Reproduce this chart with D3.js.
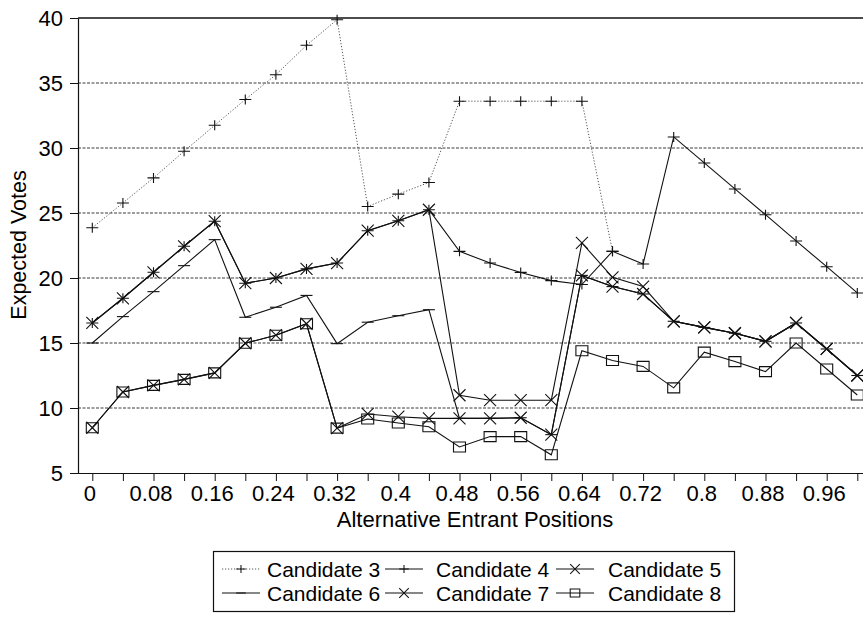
<!DOCTYPE html>
<html>
<head>
<meta charset="utf-8">
<script src="https://cdn.jsdelivr.net/npm/d3@7"></script>
<style>
  body { margin: 0; background: #fff; }
  svg { display: block; }
  text { font-family: "Liberation Sans", Arial, sans-serif; fill: #000; }
</style>
</head>
<body>
<svg id="chart" width="863" height="625"></svg>
<script>
// Entrant positions (x categories) and axis labels
const positions = [0, 0.04, 0.08, 0.12, 0.16, 0.2, 0.24, 0.28, 0.32, 0.36, 0.4, 0.44, 0.48,
                   0.52, 0.56, 0.6, 0.64, 0.68, 0.72, 0.76, 0.8, 0.84, 0.88, 0.92, 0.96, 1.0];
const tickLabels = ["0", "", "0.08", "", "0.16", "", "0.24", "", "0.32", "", "0.4", "", "0.48", "",
                    "0.56", "", "0.64", "", "0.72", "", "0.8", "", "0.88", "", "0.96", ""];
const yTicks = [5, 10, 15, 20, 25, 30, 35, 40];

// Expected votes per candidate at each entrant position
const candidate3 = [23.87, 25.77, 27.7, 29.75, 31.75, 33.73, 35.64, 37.9, 39.87, 25.5, 26.45, 27.35,
                    33.6, 33.6, 33.6, 33.6, 33.6, 22.05, null, null, null, null, null, null, null, null];
const candidate4 = [16.54, 18.44, 20.44, 22.44, 24.37, 19.6, 20.0, 20.7, 21.15, 23.64, 24.4, 25.25,
                    22.05, 21.15, 20.43, 19.8, 19.5, 22.05, 21.08, 30.85, 28.85, 26.85, 24.87, 22.85, 20.87, 18.85];
const candidate5 = [16.54, 18.44, 20.44, 22.44, 24.37, 19.6, 20.0, 20.7, 21.15, 23.64, 24.4, 25.25,
                    10.98, 10.6, 10.6, 10.6, 22.7, 20.05, 19.34, 16.67, 16.2, 15.75, 15.13, 16.54, 14.54, 12.5];
const candidate6 = [15.0, 17.03, 18.95, 20.95, 22.95, 16.98, 17.75, 18.66, 14.95, 16.6, 17.1, 17.56,
                    9.2, 9.2, 9.25, 7.95, 20.2, 19.34, 18.77, 16.67, 16.2, 15.75, 15.13, 16.54, 14.54, 12.5];
const candidate7 = [8.48, 11.23, 11.74, 12.2, 12.7, 14.98, 15.6, 16.48, 8.45, 9.54, 9.33, 9.2,
                    9.2, 9.2, 9.25, 7.95, 20.2, 19.34, 18.77, 16.67, 16.2, 15.75, 15.13, 16.54, 14.54, 12.5];
const candidate8 = [8.48, 11.23, 11.74, 12.2, 12.7, 14.98, 15.6, 16.48, 8.45, 9.15, 8.85, 8.56,
                    7.0, 7.8, 7.8, 6.4, 14.4, 13.65, 13.2, 11.55, 14.3, 13.57, 12.8, 15.0, 13.0, 11.0];

const series = [
  { name: "Candidate 3", values: candidate3, dotted: true,  marker: "plus" },
  { name: "Candidate 4", values: candidate4, dotted: false, marker: "plus" },
  { name: "Candidate 5", values: candidate5, dotted: false, marker: "times" },
  { name: "Candidate 6", values: candidate6, dotted: false, marker: "dash" },
  { name: "Candidate 7", values: candidate7, dotted: false, marker: "times" },
  { name: "Candidate 8", values: candidate8, dotted: false, marker: "square" }
];

const svg = d3.select("#chart");
const plot = { left: 78, right: 872, top: 18, bottom: 473 };

const x = d3.scaleLinear().domain([0, 1]).range([92.3, 857.3]);
const y = d3.scaleLinear().domain([5, 40]).range([plot.bottom, plot.top]);

// Horizontal gridlines
svg.append("g")
  .selectAll("line")
  .data(yTicks.filter(v => v > 5 && v < 40))
  .join("line")
  .attr("x1", plot.left).attr("x2", plot.right)
  .attr("y1", d => y(d)).attr("y2", d => y(d))
  .attr("stroke", "#3a3a3a")
  .attr("stroke-width", 1)
  .attr("stroke-dasharray", "3,1.5");

// Plot frame top
svg.append("line")
  .attr("x1", plot.left).attr("x2", plot.right)
  .attr("y1", y(40)).attr("y2", y(40))
  .attr("stroke", "#111").attr("stroke-width", 1.3);

// Y axis
const yAxis = svg.append("g")
  .attr("transform", `translate(${plot.left},0)`)
  .call(d3.axisLeft(y).tickValues(yTicks).tickSize(8).tickPadding(7).tickSizeOuter(0));
yAxis.select(".domain").attr("stroke", "#111").attr("stroke-width", 1.2);
yAxis.selectAll(".tick line").attr("stroke", "#111");
yAxis.selectAll("text").style("font-size", "22px").attr("font-family", null);

// X axis
const xAxis = svg.append("g")
  .attr("transform", `translate(0,${plot.bottom})`)
  .call(d3.axisBottom(x).tickValues(positions)
    .tickFormat((d, i) => tickLabels[i]).tickSize(8).tickPadding(4).tickSizeOuter(0));
xAxis.select(".domain").attr("d", `M${plot.left},0.5H${plot.right}`)
  .attr("stroke", "#111").attr("stroke-width", 1.2);
xAxis.selectAll(".tick line").attr("stroke", "#111");
xAxis.selectAll("text").style("font-size", "22px").attr("dx", "-3").attr("font-family", null);

// Axis titles
svg.append("text")
  .attr("x", 475).attr("y", 527)
  .attr("text-anchor", "middle")
  .style("font-size", "22px")
  .text("Alternative Entrant Positions");

svg.append("text")
  .attr("transform", "translate(26,245) rotate(-90)")
  .attr("text-anchor", "middle")
  .style("font-size", "21.5px")
  .text("Expected Votes");

// Marker shapes
function markerPath(type) {
  switch (type) {
    case "plus":   return "M-6,0H6M0,-5V5";
    case "times":  return "M-6,-6L6,6M-6,6L6,-6";
    case "square": return "M-6,-5H6V5H-6Z";
    case "dash":   return "M-6,0H6";
  }
  return "";
}

const line = d3.line()
  .defined(d => d.v != null)
  .x(d => x(d.p))
  .y(d => y(d.v));

const layer = svg.append("g");

series.forEach(s => {
  const pts = positions.map((p, i) => ({ p, v: s.values[i] }));
  layer.append("path")
    .datum(pts)
    .attr("d", line)
    .attr("fill", "none")
    .attr("stroke", s.dotted ? "#555" : "#111")
    .attr("stroke-width", s.dotted ? 1 : 1.1)
    .attr("stroke-dasharray", s.dotted ? "1.2,1.8" : null);
});

series.forEach(s => {
  const pts = positions.map((p, i) => ({ p, v: s.values[i] })).filter(d => d.v != null);
  layer.append("g")
    .selectAll("path")
    .data(pts)
    .join("path")
    .attr("transform", d => `translate(${x(d.p)},${y(d.v)})`)
    .attr("d", markerPath(s.marker))
    .attr("fill", "none")
    .attr("stroke", "#111")
    .attr("stroke-width", 1.1);
});

// Legend
const legend = svg.append("g");
legend.append("rect")
  .attr("x", 213.5).attr("y", 551.5)
  .attr("width", 521).attr("height", 60)
  .attr("fill", "#fff").attr("stroke", "#111").attr("stroke-width", 1.2);

const colSample = [222, 385, 556];
const colText = [267, 436, 608];
const rowY = [569, 593];

series.forEach((s, i) => {
  const col = i % 3, row = Math.floor(i / 3);
  const g = legend.append("g");
  const x0 = colSample[col], x1 = colSample[col] + 38, cy = rowY[row];
  g.append("line")
    .attr("x1", x0).attr("x2", x1).attr("y1", cy).attr("y2", cy)
    .attr("stroke", s.dotted ? "#555" : "#111")
    .attr("stroke-width", s.dotted ? 1 : 1.1)
    .attr("stroke-dasharray", s.dotted ? "1.2,1.8" : null);
  g.append("path")
    .attr("transform", `translate(${(x0 + x1) / 2},${cy}) scale(0.8)`)
    .attr("d", markerPath(s.marker))
    .attr("fill", "none").attr("stroke", "#111").attr("stroke-width", 1.3);
  g.append("text")
    .attr("x", colText[col]).attr("y", cy + 7.5)
    .style("font-size", "21px")
    .text(s.name);
});
</script>
</body>
</html>
